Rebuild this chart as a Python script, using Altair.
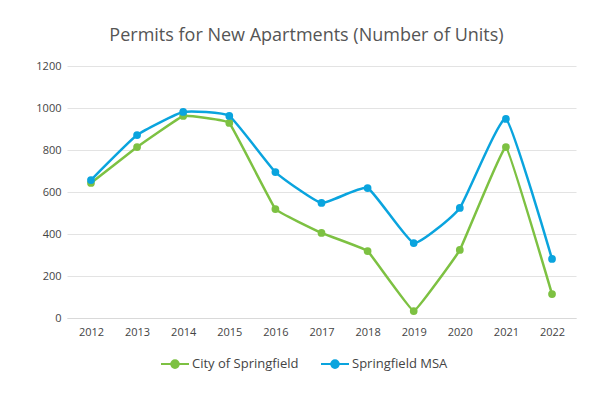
import altair as alt
import pandas as pd

years = ["2012", "2013", "2014", "2015", "2016", "2017", "2018", "2019", "2020", "2021", "2022"]
city = [643, 814, 962, 929, 519, 405, 319, 33, 324, 814, 114]
msa = [657, 871, 981, 962, 695, 548, 619, 357, 524, 948, 281]
series = ["City of Springfield", "Springfield MSA"]
colors = ["#7DC142", "#0AA4DE"]
y_ticks = [0, 200, 400, 600, 800, 1000, 1200]

rows = []
for name, vals in zip(series, [city, msa]):
    for yr, v in zip(years, vals):
        rows.append({"Year": yr, "Units": v, "Series": name})
df = pd.DataFrame(rows)

FONT = "Open Sans"

x = alt.X("Year:N", title=None, sort=years,
          scale=alt.Scale(type="point", padding=0.52),
          axis=alt.Axis(labelAngle=0, ticks=False, domain=True, domainColor="#d9d9d9",
                        labelFont=FONT, labelFontSize=11, labelColor="#444444", labelPadding=8,
                        grid=False))
y = alt.Y("Units:Q", title=None,
          scale=alt.Scale(domain=[0, 1200], nice=False),
          axis=alt.Axis(values=y_ticks, format="d", ticks=False, domain=False, gridColor="#e3e3e3",
                        labelFont=FONT, labelFontSize=11, labelColor="#444444", labelPadding=6))
color = alt.Color("Series:N", sort=series,
                  scale=alt.Scale(domain=series, range=colors),
                  legend=alt.Legend(title=None, orient="none", direction="horizontal",
                                    legendX=93, legendY=283,
                                    symbolType="M-1,0L1,0M0.27,0A0.27,0.27,0,1,1,-0.27,0A0.27,0.27,0,1,1,0.27,0",
                                    symbolSize=784, symbolStrokeWidth=2,
                                    labelFont=FONT, labelFontSize=13, labelColor="#444444",
                                    labelOffset=2, columnPadding=18))

base = alt.Chart(df)
line_city = base.transform_filter(alt.datum.Series == series[0]).mark_line(
    interpolate="cardinal", tension=0.8, strokeWidth=2.5).encode(x=x, y=y, color=color)
line_msa = base.transform_filter(alt.datum.Series == series[1]).mark_line(
    interpolate="cardinal", tension=0.6, strokeWidth=2.5).encode(x=x, y=y, color=color)
points = base.mark_circle(size=60, opacity=1).encode(x=x, y=y, color=color)

chart = (line_city + line_msa + points).properties(
    width=509, height=252,
    autosize=alt.AutoSizeParams(type="none"),
    padding={"left": 59, "top": 58, "right": 29, "bottom": 70},
    title=alt.TitleParams("Permits for New Apartments (Number of Units)",
                          font=FONT, fontSize=18, fontWeight="normal", color="#555555",
                          anchor="middle", dx=-15, dy=23, offset=24, baseline="alphabetic"),
).configure_view(stroke=None)

chart.save("out.html", embed_options={"renderer": "svg", "actions": False})
